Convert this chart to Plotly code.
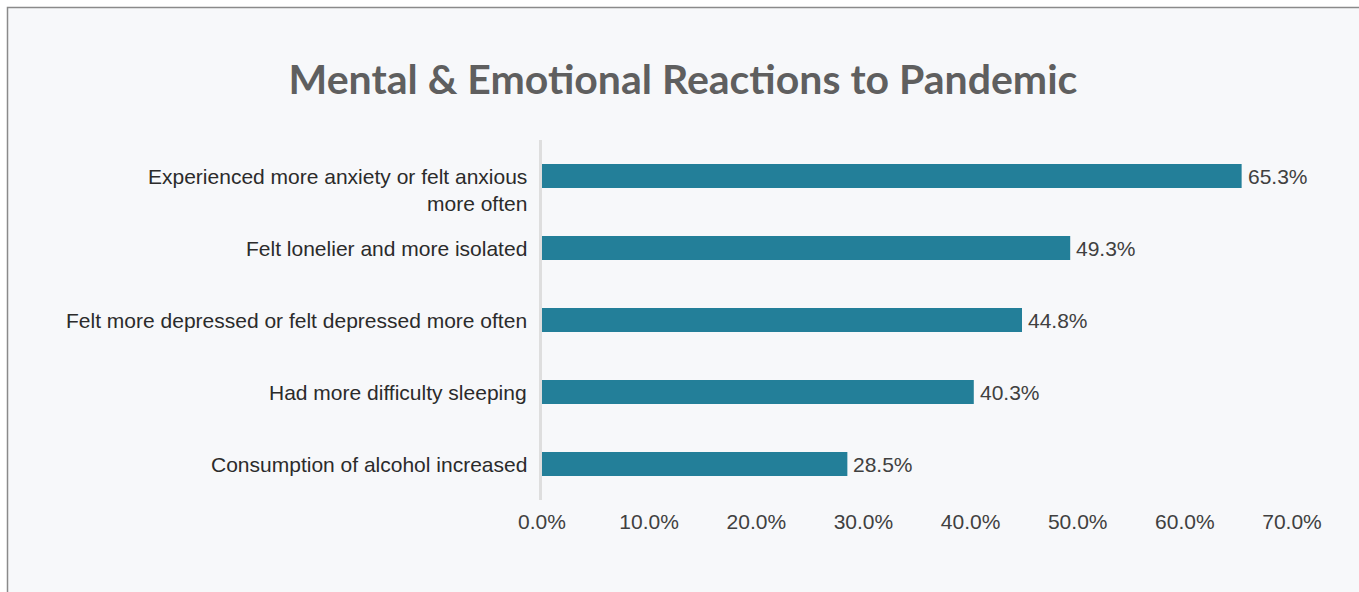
import plotly.graph_objects as go

categories = [
    "Experienced more anxiety or felt anxious<br>more often",
    "Felt lonelier and more isolated",
    "Felt more depressed or felt depressed more often",
    "Had more difficulty sleeping",
    "Consumption of alcohol increased",
]
values = [65.3, 49.3, 44.8, 40.3, 28.5]
value_labels = ["65.3%", "49.3%", "44.8%", "40.3%", "28.5%"]
tick_vals = [0, 10, 20, 30, 40, 50, 60, 70]
tick_text = ["0.0%", "10.0%", "20.0%", "30.0%", "40.0%", "50.0%", "60.0%", "70.0%"]
title_text = "Mental & Emotional Reactions to Pandemic"

W, H = 1359, 592
L, R, T, B = 542, 67, 140, 92
pw, ph = W - L - R, H - T - B
FONT = "Liberation Sans, Arial"

fig = go.Figure()
fig.add_trace(go.Bar(
    x=values, y=categories, orientation="h",
    marker=dict(color="#237f99", line=dict(width=0)),
    width=0.333,
    hoverinfo="skip",
))

for c, v, lab in zip(categories, values, value_labels):
    two = "<br>" in c
    fig.add_annotation(
        x=0, y=c, xref="x", yref="y", text=c, showarrow=False,
        xanchor="right", yanchor="middle", align="right", xshift=-13,
        yshift=-13.6 if two else 0,
        font=dict(family=FONT, size=21, color="#2b2b2b"),
    )
    fig.add_annotation(
        x=v, y=c, xref="x", yref="y", text=lab, showarrow=False,
        xanchor="left", yanchor="middle", xshift=4,
        font=dict(family=FONT, size=21, color="#404040"),
    )

# background box with border
px = lambda p: (p - L) / pw
py = lambda p: 1 + (T - p) / ph
fig.add_shape(type="rect", xref="paper", yref="paper",
              x0=px(7.5), x1=px(W + 20), y0=py(H + 20), y1=py(7.5),
              fillcolor="#f7f8fa", line=dict(color="#8a8a8a", width=1.5), layer="below")

fig.update_layout(
    width=W, height=H,
    margin=dict(l=L, r=R, t=T, b=B, pad=0),
    paper_bgcolor="white", plot_bgcolor="rgba(0,0,0,0)",
    showlegend=False,
    bargap=0.667,
    title=dict(text=title_text, x=683 / W, xanchor="center", y=1 - 80 / H, yanchor="middle",
               font=dict(family="Lato", size=41, color="#5f5f5f", weight="bold")),
    xaxis=dict(range=[0, 70], tickvals=tick_vals, ticktext=tick_text, showgrid=False,
               zeroline=False, showline=False, ticks="outside", ticklen=3, tickcolor="rgba(0,0,0,0)",
               tickfont=dict(family=FONT, size=21, color="#404040")),
    yaxis=dict(range=[len(categories) - 0.5, -0.5], showticklabels=False, showgrid=False,
               zeroline=False, showline=True, linecolor="#dedede", linewidth=3, ticks=""),
)

fig.write_html("out.html", config={"displayModeBar": False},
               post_script="document.body.style.margin='0';document.body.style.padding='0';")
